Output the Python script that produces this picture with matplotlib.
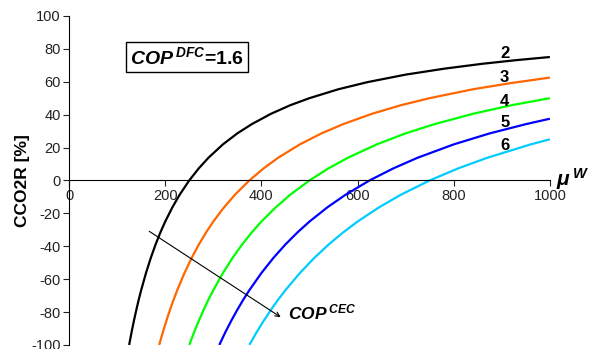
import matplotlib
matplotlib.use('Agg')
import matplotlib.pyplot as plt

plt.rcParams['font.family'] = ['Liberation Sans', 'DejaVu Sans']
plt.rcParams['mathtext.fontset'] = 'custom'
plt.rcParams['mathtext.it'] = 'Liberation Sans:italic:bold'
plt.rcParams['mathtext.rm'] = 'Liberation Sans:bold'
plt.rcParams['mathtext.bf'] = 'Liberation Sans:bold'
plt.rcParams['axes.unicode_minus'] = False

# valeurs (mu^W, CCO2R %)
mu_2 = [125, 130, 135, 140, 145, 150, 160, 170, 180, 190, 200, 215, 230, 250, 270, 290, 320, 350,
        380, 420, 460, 500, 560, 620, 700, 780, 860, 930, 1000]
cco2r_2 = [-100, -92.3, -85.2, -78.6, -72.4, -66.7, -56.3, -47.1, -38.9, -31.6, -25, -16.3, -8.7, 0,
           7.4, 13.8, 21.9, 28.6, 34.2, 40.5, 45.7, 50, 55.4, 59.7, 64.3, 67.9, 70.9, 73.1, 75]

mu_3 = [187.5, 195, 205, 215, 225, 240, 255, 270, 285, 300, 320, 345, 375, 405, 435, 480, 525, 570,
        630, 690, 750, 840, 920, 1000]
cco2r_3 = [-100, -92.3, -82.9, -74.4, -66.7, -56.3, -47.1, -38.9, -31.6, -25, -17.2, -8.7, 0, 7.4,
           13.8, 21.9, 28.6, 34.2, 40.5, 45.7, 50, 55.4, 59.2, 62.5]

mu_4 = [250, 260, 270, 280, 290, 300, 320, 340, 360, 380, 400, 430, 460, 500, 540, 580, 640, 700,
        760, 840, 920, 1000]
cco2r_4 = [-100, -92.3, -85.2, -78.6, -72.4, -66.7, -56.3, -47.1, -38.9, -31.6, -25, -16.3, -8.7, 0,
           7.4, 13.8, 21.9, 28.6, 34.2, 40.5, 45.7, 50]

mu_5 = [312.5, 325, 337.5, 350, 362.5, 375, 400, 425, 450, 475, 500, 537.5, 575, 625, 675, 725, 800,
        875, 950, 1000]
cco2r_5 = [-100, -92.3, -85.2, -78.6, -72.4, -66.7, -56.3, -47.1, -38.9, -31.6, -25, -16.3, -8.7, 0,
           7.4, 13.8, 21.9, 28.6, 34.2, 37.5]

mu_6 = [375, 390, 405, 420, 435, 450, 480, 510, 540, 570, 600, 645, 690, 750, 810, 870, 960, 1000]
cco2r_6 = [-100, -92.3, -85.2, -78.6, -72.4, -66.7, -56.3, -47.1, -38.9, -31.6, -25, -16.3, -8.7, 0,
           7.4, 13.8, 21.9, 25]

cop_labels = ['2', '3', '4', '5', '6']
label_y = [77, 62.3, 47.7, 35, 21]
couleurs = ['#000000', '#FF6600', '#00FF00', '#0000FF', '#00CCFF']

fig = plt.figure(figsize=(5.9, 3.49), dpi=100)
ax = fig.add_axes([0.117, 0.0115, 0.815, 0.943])

courbes = [(mu_2, cco2r_2), (mu_3, cco2r_3), (mu_4, cco2r_4), (mu_5, cco2r_5), (mu_6, cco2r_6)]
for (x, y), c, lab, ly in zip(courbes, couleurs, cop_labels, label_y):
    ax.plot(x, y, color=c, lw=1.6, solid_capstyle='butt')
    ax.text(906, ly, lab, fontsize=12, fontweight='bold', ha='center', va='center')

ax.set_xlim(0, 1000)
ax.set_ylim(-100, 100)
ax.set_xticks(range(0, 1001, 200))
ax.set_yticks(range(-100, 101, 20))
ax.spines['right'].set_visible(False)
ax.spines['top'].set_visible(False)
ax.spines['bottom'].set_position(('data', 0))
ax.spines['left'].set_linewidth(0.8)
ax.spines['bottom'].set_linewidth(0.8)
ax.tick_params(labelsize=10.5, length=4, width=0.8, pad=2, colors='#222222')

ax.set_ylabel('CCO2R [%]', fontsize=12.5, fontweight='bold', labelpad=1)

ax.text(245, 75, r'$COP^{\,DFC}$=1.6', fontsize=14, fontweight='bold', ha='center', va='center',
        bbox=dict(boxstyle='square,pad=0.2', fc='white', ec='black', lw=1))

ax.annotate('', xy=(445, -84), xytext=(162, -30),
            arrowprops=dict(arrowstyle='->', color='black', lw=0.8, mutation_scale=8))
ax.text(455, -80, r'$COP^{\,CEC}$', fontsize=12.5, ha='left', va='center')

ax.text(1013, 1, r'$\mu^{\,W}$', fontsize=15, ha='left', va='center', clip_on=False)

fig.savefig('out.png', dpi=100)
